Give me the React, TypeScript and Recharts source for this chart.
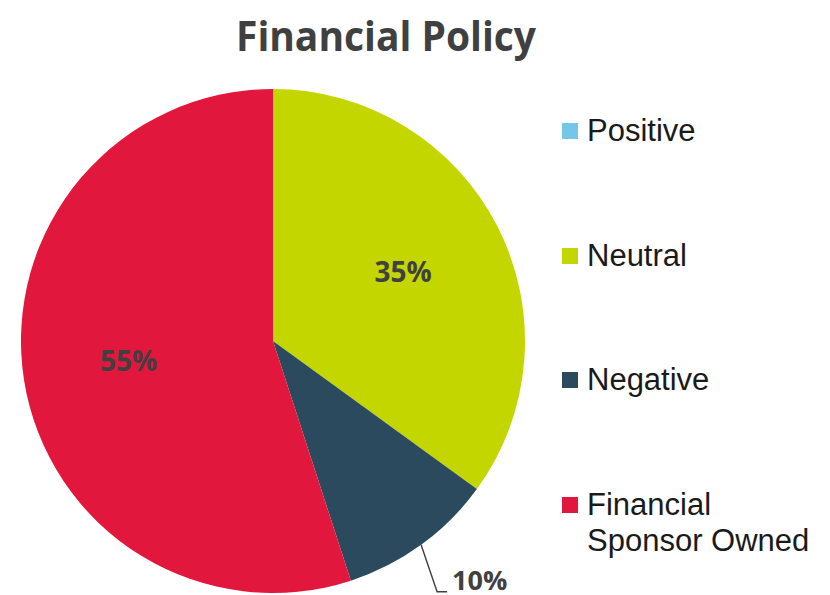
import React from "react";
import { PieChart, Pie, Cell, Legend } from "recharts";

// Slice names, shares (%) and colours
const categories = ["Positive", "Neutral", "Negative", "Financial Sponsor Owned"];
const shares = [0, 35, 10, 55];
const colors = ["#75C7EA", "#C4D600", "#2C4A5E", "#E2173E"];

const chartData = categories.map((name, i) => ({ name, value: shares[i] }));

const RADIAN = Math.PI / 180;
const labelFont = "'Open Sans', 'Noto Sans', sans-serif";

// Inner labels for the big slices, a leader line for the small one
const renderLabel = (props: any) => {
  const { cx, cy, midAngle, outerRadius, value, index } = props;
  if (!value) return null;
  const cos = Math.cos(-midAngle * RADIAN);
  const sin = Math.sin(-midAngle * RADIAN);

  if (value < 20) {
    const ex = cx + outerRadius * cos;
    const ey = cy + outerRadius * sin;
    const bx = ex + 16;
    const by = ey + 47;
    return (
      <g key={`lbl-${index}`}>
        <polyline
          points={`${ex},${ey} ${bx},${by} ${bx + 10},${by}`}
          fill="none"
          stroke="#404040"
          strokeWidth={1.5}
        />
        <text
          x={bx + 15}
          y={by - 2}
          fill="#404040"
          fontFamily={labelFont}
          fontWeight={700}
          fontSize={27}
          textAnchor="start"
        >
          {`${value}%`}
        </text>
      </g>
    );
  }

  const r = outerRadius * 0.58;
  return (
    <text
      key={`lbl-${index}`}
      x={cx + r * cos}
      y={cy + r * sin - 4}
      fill="#404040"
      fontFamily={labelFont}
      fontWeight={700}
      fontSize={28}
      textAnchor="middle"
      dominantBaseline="central"
    >
      {`${value}%`}
    </text>
  );
};

const renderLegend = (props: any) => {
  // keep the legend in data order, top to bottom
  const payload = [...(props.payload || [])].sort(
    (a: any, b: any) => categories.indexOf(a.value) - categories.indexOf(b.value)
  );
  return (
    <div style={{ fontFamily: "'Liberation Sans', Arial, sans-serif", fontSize: 31, color: "#1a1a1a" }}>
      {payload.map((entry: any, i: number) => (
        <div key={`leg-${i}`} style={{ display: "flex", alignItems: "flex-start", height: 124.5 }}>
          <div
            style={{
              width: 16,
              height: 16,
              marginTop: 10,
              marginRight: 9,
              flexShrink: 0,
              background: entry.color,
            }}
          />
          <div style={{ lineHeight: "36px", width: 235 }}>{entry.value}</div>
        </div>
      ))}
    </div>
  );
};

export default function App() {
  return (
    <div style={{ position: "absolute", left: 0, top: 0, width: 830, height: 595, background: "#fff" }}>
      <PieChart width={830} height={595} margin={{ top: 0, right: 0, bottom: 0, left: 0 }}>
        <text
          x={386}
          y={34}
          textAnchor="middle"
          dominantBaseline="central"
          fill="#404040"
          fontFamily={labelFont}
          fontWeight={700}
          fontSize={42}
          textLength={300}
          lengthAdjust="spacingAndGlyphs"
        >
          Financial Policy
        </text>
        <Pie
          data={chartData}
          dataKey="value"
          nameKey="name"
          cx={273}
          cy={341}
          outerRadius={252}
          startAngle={90}
          endAngle={-270}
          stroke="none"
          label={renderLabel}
          labelLine={false}
          isAnimationActive={false}
        >
          {chartData.map((d, i) => (
            <Cell key={d.name} fill={colors[i]} />
          ))}
        </Pie>
        <Legend
          layout="vertical"
          content={renderLegend}
          wrapperStyle={{ position: "absolute", left: 562, top: 113, width: 268 }}
        />
      </PieChart>
    </div>
  );
}
